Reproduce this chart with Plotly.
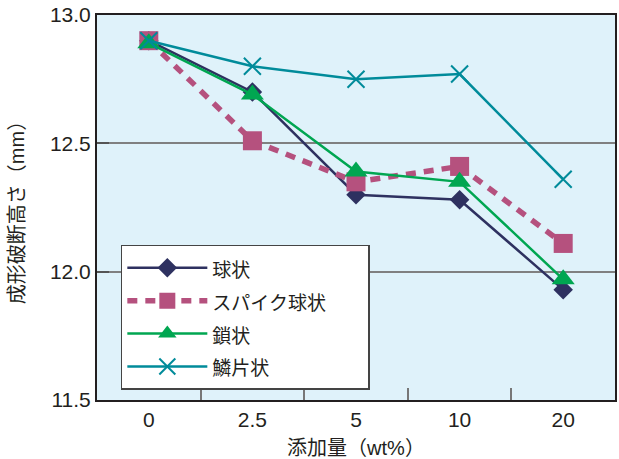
import plotly.graph_objects as go

categories = ["0", "2.5", "5", "10", "20"]
kyujo = [12.90, 12.70, 12.30, 12.28, 11.93]
spike = [12.90, 12.51, 12.35, 12.41, 12.11]
sajo = [12.89, 12.69, 12.39, 12.35, 11.97]
rinpen = [12.90, 12.80, 12.75, 12.77, 12.36]
names = ["球状", "スパイク球状", "鎖状", "鱗片状"]
y_ticks = [11.5, 12.0, 12.5, 13.0]
y_ticklabels = ["11.5", "12.0", "12.5", "13.0"]

FONT = "Liberation Sans, Arial, Noto Sans CJK JP"

def lname(s, pad=0):
    out = '<span style="font-size:19px">' + s + '&nbsp;' * pad + '</span>'
    if pad:
        out += '<span style="font-size:19px;color:white">.</span>'
    return out

fig = go.Figure()
fig.add_trace(go.Scatter(
    x=categories, y=kyujo, name=lname(names[0]), mode="lines+markers",
    line=dict(color="#2e3160", width=2.5),
    marker=dict(symbol="diamond", size=15, color="#2e3160")))
fig.add_trace(go.Scatter(
    x=categories, y=spike, name=lname(names[1], 6), mode="lines+markers",
    line=dict(color="#b5517e", width=5.5, dash="10px,8px"),
    marker=dict(symbol="square", size=19, color="#b5517e")))
fig.add_trace(go.Scatter(
    x=categories, y=sajo, name=lname(names[2]), mode="lines+markers",
    line=dict(color="#00a651", width=2.5),
    marker=dict(symbol="triangle-up", size=20, color="#00a651")))
fig.add_trace(go.Scatter(
    x=categories, y=rinpen, name=lname(names[3]), mode="lines+markers",
    line=dict(color="#008b9a", width=2.5),
    marker=dict(symbol="x-thin", size=17, color="#008b9a",
                line=dict(color="#008b9a", width=2))))

fig.update_layout(
    width=619, height=459,
    margin=dict(l=97, r=4, t=15, b=59),
    paper_bgcolor="white",
    plot_bgcolor="#dff2fa",
    font=dict(family=FONT, size=20, color="#231f20"),
    showlegend=True,
    legend=dict(
        x=0.046, y=0.403, xanchor="left", yanchor="top",
        bgcolor="white", bordercolor="#444", borderwidth=1.5,
        font=dict(size=23, family=FONT, color="#231f20"),
        itemwidth=80, tracegroupgap=0,
    ),
    xaxis=dict(
        type="category", range=[-0.5, 4.5], automargin=False,
        showline=True, linecolor="#231f20", linewidth=2, mirror=True,
        ticks="inside", tickson="boundaries", ticklen=12, tickcolor="#777",
        tickwidth=1.5, showgrid=False, zeroline=False,
        tickfont=dict(size=21),
        title=dict(text="添加量（wt%）", font=dict(size=20), standoff=12),
    ),
    yaxis=dict(
        range=[11.5, 13.0], tickvals=y_ticks, ticktext=y_ticklabels,
        automargin=False,
        showline=True, linecolor="#231f20", linewidth=2, mirror=True,
        ticks="inside", ticklen=12, tickcolor="#555", tickwidth=1.5,
        showgrid=True, gridcolor="#808080", gridwidth=1.5, zeroline=False,
        tickfont=dict(size=21),
        title=dict(text="成形破断高さ（mm）", font=dict(size=20), standoff=20),
    ),
)

fig.write_html("out.html", config={"displayModeBar": False},
               post_script="document.body.style.margin='0';")
